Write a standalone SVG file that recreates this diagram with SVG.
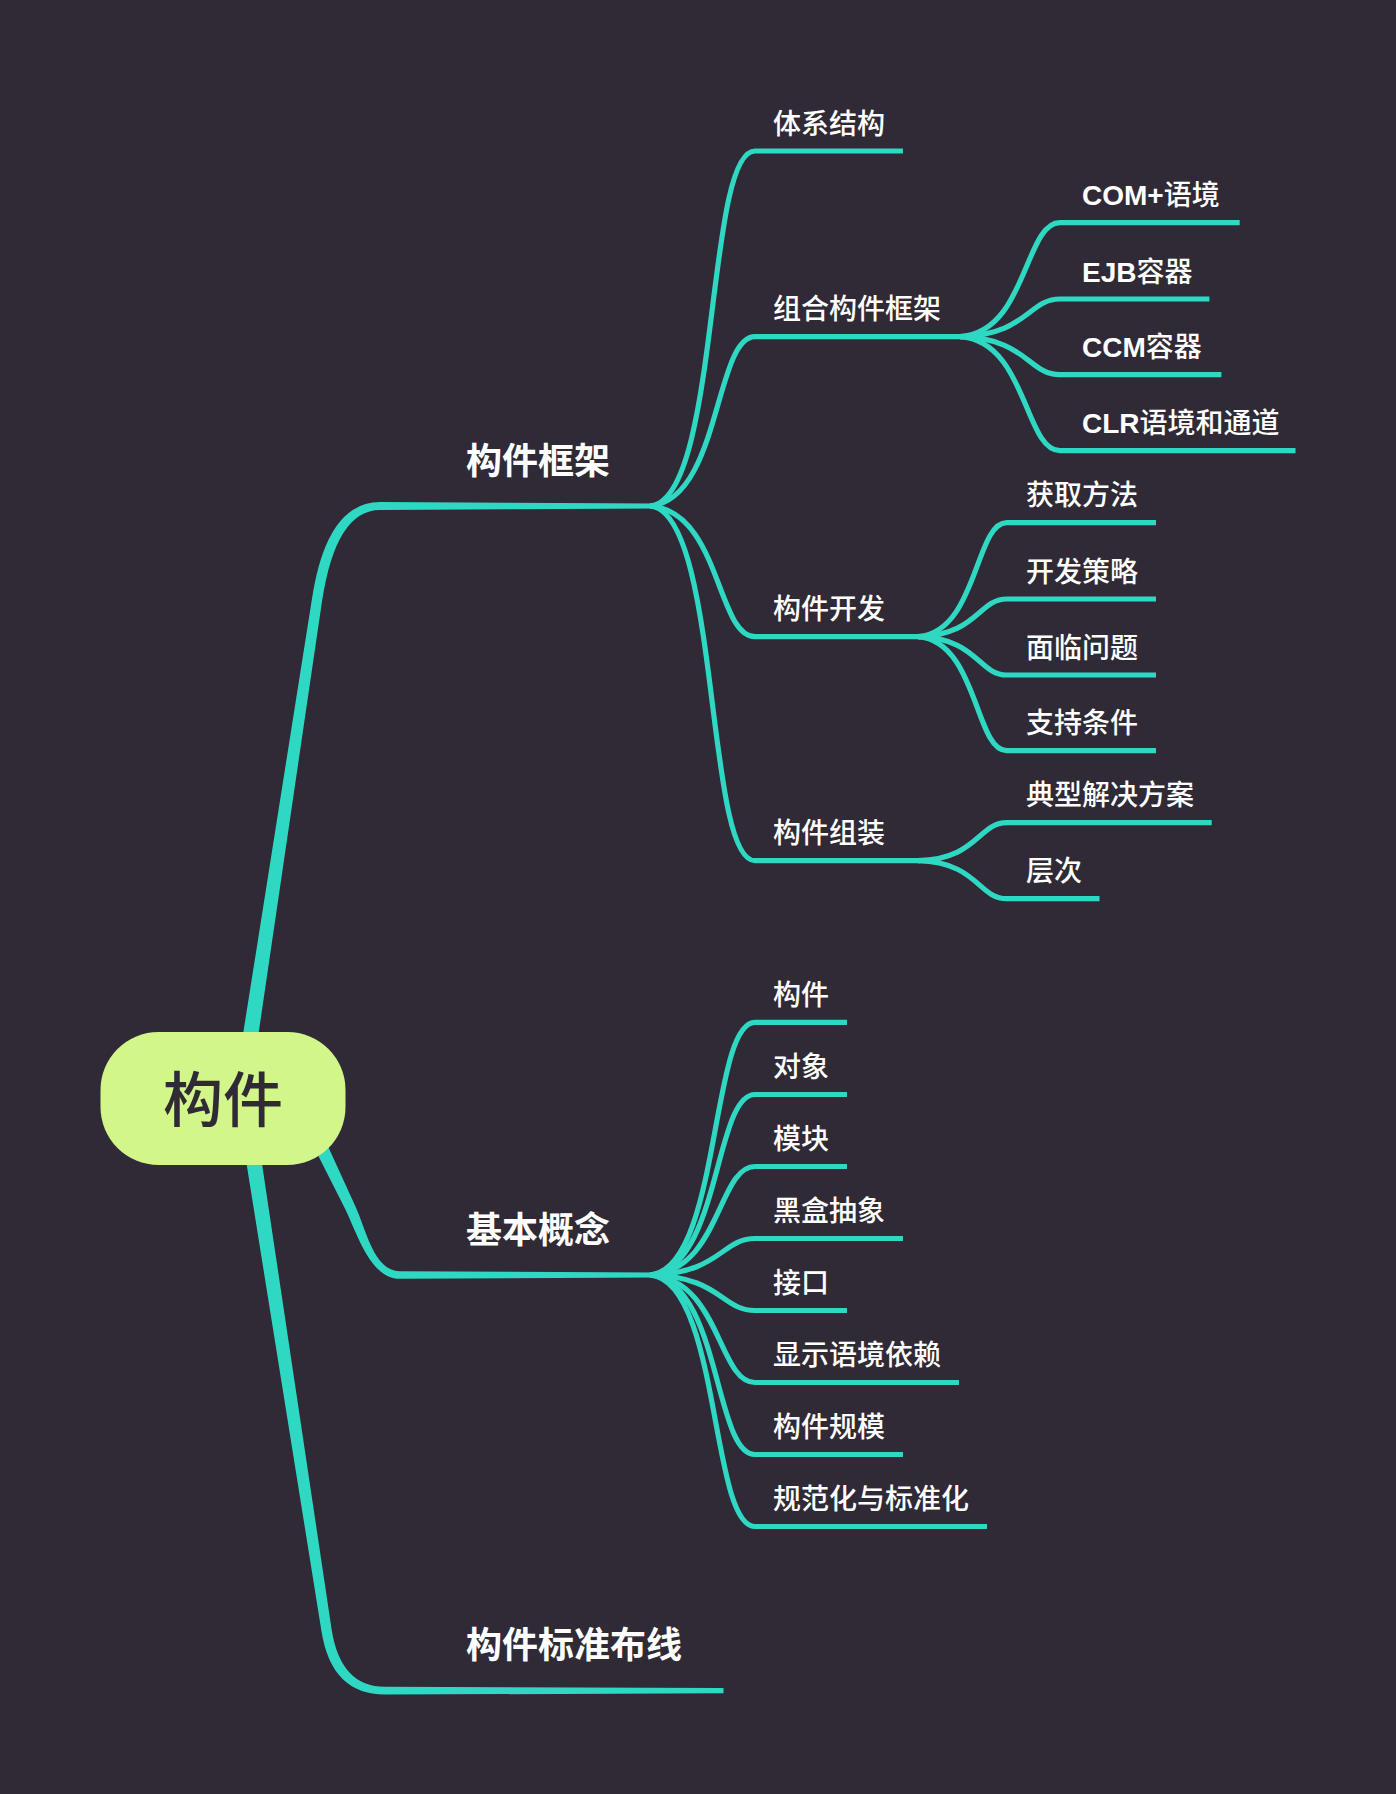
<svg xmlns="http://www.w3.org/2000/svg" width="1396" height="1794" viewBox="0 0 1396 1794">
<style>
.bg{fill:#2f2a35}
.main{fill:#2fd8c3}
.sub{fill:none;stroke:#2fd8c3;stroke-width:5.2;stroke-linecap:butt;stroke-linejoin:round}
.t1{font-family:"Noto Sans CJK SC","Noto Sans",sans-serif;font-size:36px;font-weight:700;fill:#ffffff}
.t2{font-family:"Noto Sans CJK SC","Noto Sans",sans-serif;font-size:28px;font-weight:500;fill:#ffffff}
.lat{font-family:"Liberation Sans",Arial,sans-serif;font-weight:700}
.root{fill:#d2f68a}
.rt{font-family:"Noto Sans CJK SC","Noto Sans",sans-serif;font-size:60px;font-weight:500;fill:#2f2a35}
</style>
<rect class="bg" x="0" y="0" width="1396" height="1794"/>
<g id="connectors">
  <!-- main branches (tapered) -->
  <path class="main" d="M232.8,1098.8 L311.9,599.2 Q326.7,502.1 380,502.1 L656,503.4 L656,508.6 L380,509.9 Q336,509.9 322.1,600.8 L248.6,1101.2 Z"/>
  <path class="main" d="M291.7,1103.3 L345.3,1209.3 C357.5,1234.2 370.5,1279 400,1278.8 L656,1277.6 L656,1272.4 L400,1271.2 C373.5,1271 366.5,1229.8 354.7,1204.7 L305.3,1096.7 Z"/>
  <path class="main" d="M236.5,1101.2 L321.4,1630.8 Q331.3,1694.6 385,1694.6 L723.5,1693.3 L723.5,1688.1 L385,1686.8 Q340.5,1686.8 331.6,1629.2 L252.3,1098.8 Z"/>
  <!-- 构件框架 children -->
  <path class="sub" d="M650,506 C720.4,500 704.9,151 755,151 L903,151"/>
  <path class="sub" d="M650,506 C720.4,500 714.6,336.7 755,336.7 L962,336.7"/>
  <path class="sub" d="M650,506 C720.4,511.2 716.7,636.7 755,636.7 L920,636.7"/>
  <path class="sub" d="M650,506 C720.4,512 704.9,860.7 755,860.7 L920,860.7"/>
  <!-- 组合构件框架 children -->
  <path class="sub" d="M960,336.7 C1027,332.1 1024.3,222.7 1060,222.7 L1239.7,222.7"/>
  <path class="sub" d="M960,336.7 C1027,335.2 1028.1,299 1060,299 L1209.4,299"/>
  <path class="sub" d="M960,336.7 C1027,338.2 1028.1,374.7 1060,374.7 L1221.4,374.7"/>
  <path class="sub" d="M960,336.7 C1027,341.3 1024.3,450.7 1060,450.7 L1295.5,450.7"/>
  <!-- 构件开发 children -->
  <path class="sub" d="M918,636.7 C977.4,632.1 975,522.7 1006.7,522.7 L1156,522.7"/>
  <path class="sub" d="M918,636.7 C977.4,635.2 978.4,599 1006.7,599 L1156,599"/>
  <path class="sub" d="M918,636.7 C977.4,638.2 978.4,675 1006.7,675 L1156,675"/>
  <path class="sub" d="M918,636.7 C977.4,641.3 975,750.7 1006.7,750.7 L1156,750.7"/>
  <!-- 构件组装 children -->
  <path class="sub" d="M918,860.7 C977.4,859.2 978.4,822.7 1006.7,822.7 L1211.7,822.7"/>
  <path class="sub" d="M918,860.7 C977.4,862.2 978.4,898.7 1006.7,898.7 L1099.5,898.7"/>
  <!-- 基本概念 children -->
  <path class="sub" d="M650,1275 C720.4,1269 710.2,1022.4 755,1022.4 L847,1022.4"/>
  <path class="sub" d="M650,1275 C720.4,1269 714,1094.5 755,1094.5 L847,1094.5"/>
  <path class="sub" d="M650,1275 C720.4,1270.7 717.8,1166.5 755,1166.5 L847,1166.5"/>
  <path class="sub" d="M650,1275 C720.4,1273.5 721.6,1238.5 755,1238.5 L903,1238.5"/>
  <path class="sub" d="M650,1275 C720.4,1276.4 721.6,1310.5 755,1310.5 L847,1310.5"/>
  <path class="sub" d="M650,1275 C720.4,1279.3 717.8,1382.5 755,1382.5 L959,1382.5"/>
  <path class="sub" d="M650,1275 C720.4,1281 714,1454.5 755,1454.5 L903,1454.5"/>
  <path class="sub" d="M650,1275 C720.4,1281 710.2,1526.5 755,1526.5 L987,1526.5"/>
</g>
<g id="node-root">
  <rect class="root" x="100.5" y="1032" width="245" height="133" rx="58" ry="58"/>
  <text class="rt" x="223" y="1122" text-anchor="middle">构件</text>
</g>
<g id="node-goujiankuangjia"><text class="t1" x="466" y="473.5">构件框架</text></g>
<g id="node-jibengainian"><text class="t1" x="466" y="1242.5">基本概念</text></g>
<g id="node-biaozhunbuxian"><text class="t1" x="466" y="1658.2">构件标准布线</text></g>
<g id="node-tixijiegou"><text class="t2" x="773" y="133.5">体系结构</text></g>
<g id="node-zuhe"><text class="t2" x="773" y="319.2">组合构件框架</text></g>
<g id="node-kaifa"><text class="t2" x="773" y="619.2">构件开发</text></g>
<g id="node-zuzhuang"><text class="t2" x="773" y="843.2">构件组装</text></g>
<g id="node-com"><text class="t2" x="1082" y="205.2"><tspan class="lat">COM+</tspan>语境</text></g>
<g id="node-ejb"><text class="t2" x="1082" y="281.5"><tspan class="lat">EJB</tspan>容器</text></g>
<g id="node-ccm"><text class="t2" x="1082" y="357.2"><tspan class="lat">CCM</tspan>容器</text></g>
<g id="node-clr"><text class="t2" x="1082" y="433.2"><tspan class="lat">CLR</tspan>语境和通道</text></g>
<g id="node-huoqu"><text class="t2" x="1026" y="505.2">获取方法</text></g>
<g id="node-celue"><text class="t2" x="1026" y="581.5">开发策略</text></g>
<g id="node-wenti"><text class="t2" x="1026" y="657.5">面临问题</text></g>
<g id="node-tiaojian"><text class="t2" x="1026" y="733.2">支持条件</text></g>
<g id="node-fangan"><text class="t2" x="1026" y="805.2">典型解决方案</text></g>
<g id="node-cengci"><text class="t2" x="1026" y="881.2">层次</text></g>
<g id="node-goujian"><text class="t2" x="773" y="1004.9">构件</text></g>
<g id="node-duixiang"><text class="t2" x="773" y="1077">对象</text></g>
<g id="node-mokuai"><text class="t2" x="773" y="1149">模块</text></g>
<g id="node-heihe"><text class="t2" x="773" y="1221">黑盒抽象</text></g>
<g id="node-jiekou"><text class="t2" x="773" y="1293">接口</text></g>
<g id="node-yilai"><text class="t2" x="773" y="1365">显示语境依赖</text></g>
<g id="node-guimo"><text class="t2" x="773" y="1437">构件规模</text></g>
<g id="node-guifan"><text class="t2" x="773" y="1509">规范化与标准化</text></g>
</svg>
